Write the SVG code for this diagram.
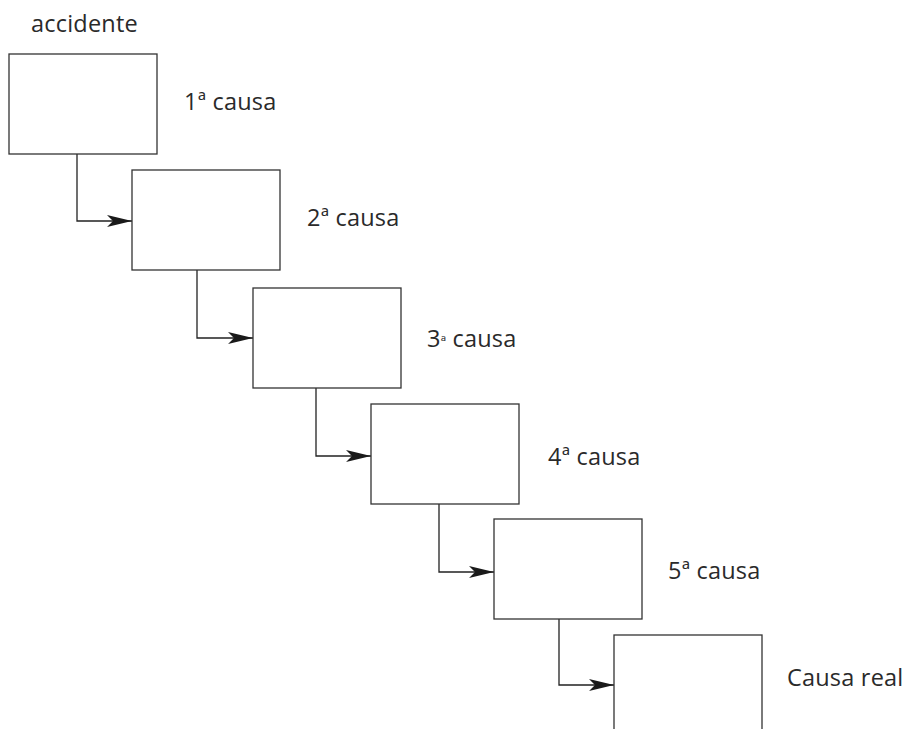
<svg xmlns="http://www.w3.org/2000/svg" width="907" height="729" viewBox="0 0 907 729">
<defs>
<style>
.box{fill:#fff;stroke:#333;stroke-width:1.3}
.con{fill:none;stroke:#222;stroke-width:1.3}
.lbl{font-family:"Open Sans","Noto Sans","DejaVu Sans",sans-serif;font-size:23.5px;letter-spacing:0.2px;fill:#2a2a2a}
.sup{font-size:15px}
</style>
<marker id="arr" markerUnits="userSpaceOnUse" viewBox="-26 -7 27 14" markerWidth="27" markerHeight="14" refX="0" refY="0" orient="auto">
<path d="M0,0 L-25,-6 L-19,0 L-25,6 Z" fill="#1a1a1a"/>
</marker>
</defs>
<rect width="907" height="729" fill="#fff"/>
<text class="lbl" x="31" y="32">accidente</text>
<g id="connectors">
<path class="con" d="M77,154 V221 H132" marker-end="url(#arr)"/>
<path class="con" d="M197,270 V338 H253" marker-end="url(#arr)"/>
<path class="con" d="M316,388 V456 H371" marker-end="url(#arr)"/>
<path class="con" d="M439,504 V572 H494" marker-end="url(#arr)"/>
<path class="con" d="M559,619 V685 H614" marker-end="url(#arr)"/>
</g>
<g id="n1"><rect class="box" x="9" y="54" width="148" height="100"/><text class="lbl" x="184" y="110">1ª causa</text></g>
<g id="n2"><rect class="box" x="132" y="170" width="148" height="100"/><text class="lbl" x="307" y="226">2ª causa</text></g>
<g id="n3"><rect class="box" x="253" y="288" width="148" height="100"/><text class="lbl" x="427" y="347">3<tspan class="sup">ª</tspan> causa</text></g>
<g id="n4"><rect class="box" x="371" y="404" width="148" height="100"/><text class="lbl" x="548" y="465">4ª causa</text></g>
<g id="n5"><rect class="box" x="494" y="519" width="148" height="100"/><text class="lbl" x="668" y="579">5ª causa</text></g>
<g id="n6"><rect class="box" x="614" y="635" width="148" height="110"/><text class="lbl" x="787" y="686">Causa real</text></g>
</svg>
